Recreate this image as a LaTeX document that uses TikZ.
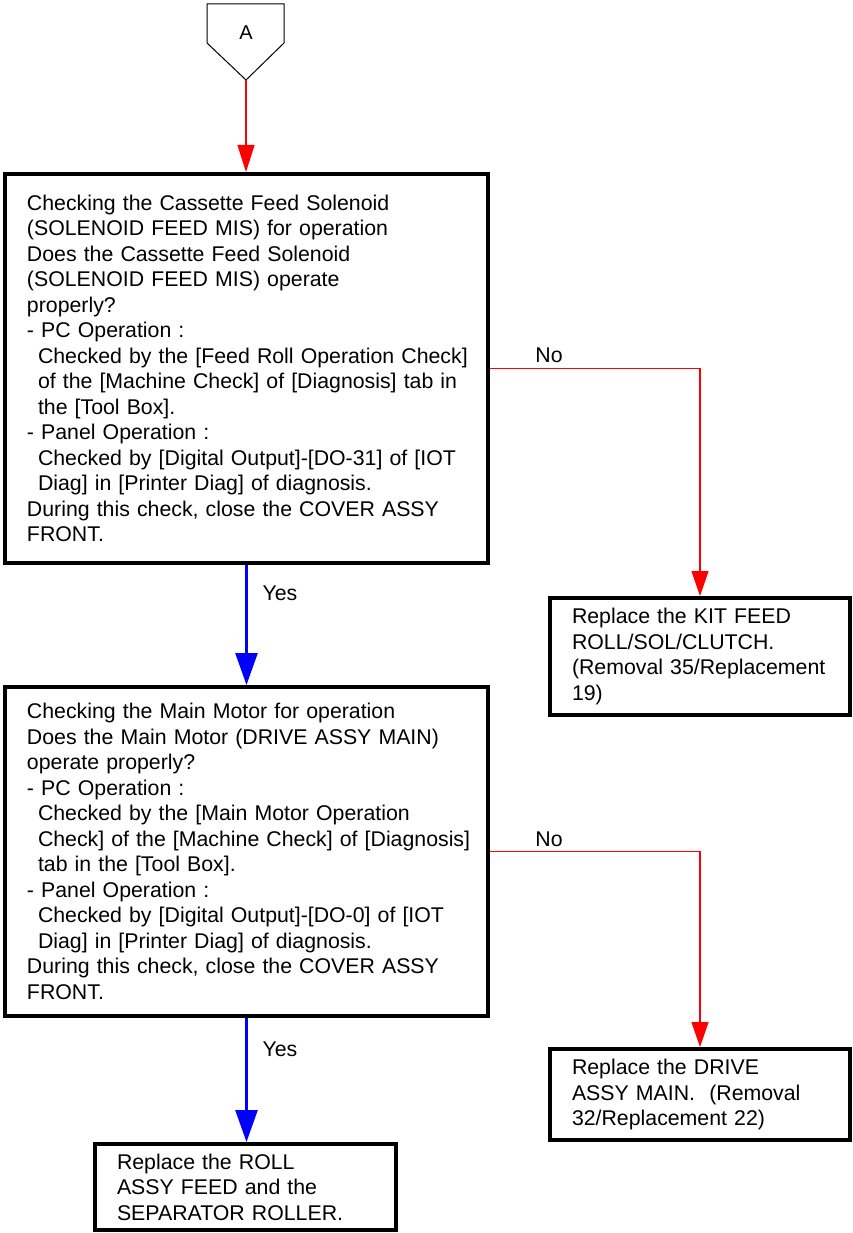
\documentclass[tikz,border=0pt]{standalone}
\usepackage{fontspec}
\setmainfont{Liberation Sans}
\usetikzlibrary{arrows.meta}
\newcommand{\ind}[1]{\mbox{\hspace*{11pt}#1}}
\tikzset{
  box/.style={draw=black, line width=4pt, rectangle, align=left, inner xsep=22pt, inner ysep=0pt,
              font=\fontsize{21.3pt}{25.5pt}\selectfont},
  lbl/.style={font=\fontsize{21.3pt}{25.5pt}\selectfont, inner sep=0pt},
  noarrow/.style={draw=red, line width=1.2pt, -{Triangle[length=25pt,width=17pt]}},
  toparrow/.style={draw=red, line width=1.2pt, -{Triangle[length=27pt,width=17pt]}},
  yesarrow/.style={draw=blue, line width=2.6pt, -{Triangle[length=32pt,width=22pt]}},
}
\begin{document}
\begin{tikzpicture}[x=1pt,y=-1pt]
\useasboundingbox (0,0) rectangle (852,1233);
% connector symbol A
\draw[line width=1pt, line join=miter] (207,4) -- (284,4) -- (284,43) -- (246,80) -- (207,43) -- cycle;
\node[font=\fontsize{20pt}{24pt}\selectfont, inner sep=0pt] (A) at (246,33) {A};
\coordinate (Atip) at (246,80);

\node[box, minimum width=483pt, minimum height=389pt, text width=439pt] (b1) at (246.5,368.5) {\mbox{Checking the Cassette Feed Solenoid}\\
\mbox{(SOLENOID FEED MIS) for operation}\\
\mbox{Does the Cassette Feed Solenoid}\\
\mbox{(SOLENOID FEED MIS) operate}\\
properly?\\
- PC Operation :\\
\ind{Checked by the [Feed Roll Operation Check]}\\
\ind{of the [Machine Check] of [Diagnosis] tab in}\\
\ind{the [Tool Box].}\\
- Panel Operation :\\
\ind{Checked by [Digital Output]-[DO-31] of [IOT}\\
\ind{Diag] in [Printer Diag] of diagnosis.}\\
\mbox{During this check, close the COVER ASSY}\\
FRONT.};

\node[box, minimum width=300pt, minimum height=117pt, text width=256pt] (kit) at (700,656.5) {Replace the KIT FEED\\
ROLL/SOL/CLUTCH.\\
\mbox{(Removal 35/Replacement}\\
19)};

\node[box, minimum width=483pt, minimum height=329pt, text width=439pt] (b2) at (246.5,851.5) {\mbox{Checking the Main Motor for operation}\\
\mbox{Does the Main Motor (DRIVE ASSY MAIN)}\\
operate properly?\\
- PC Operation :\\
\ind{Checked by the [Main Motor Operation}\\
\ind{Check] of the [Machine Check] of [Diagnosis]}\\
\ind{tab in the [Tool Box].}\\
- Panel Operation :\\
\ind{Checked by [Digital Output]-[DO-0] of [IOT}\\
\ind{Diag] in [Printer Diag] of diagnosis.}\\
\mbox{During this check, close the COVER ASSY}\\
FRONT.};

\node[box, minimum width=300pt, minimum height=91pt, text width=256pt] (drive) at (700,1094.5) {Replace the DRIVE\\
\mbox{ASSY MAIN.\ \ (Removal}\\
\mbox{32/Replacement 22)}};

\node[box, minimum width=301pt, minimum height=86pt, text width=257pt] (b3) at (245.5,1187) {Replace the ROLL\\
\mbox{ASSY FEED and the}\\
\mbox{SEPARATOR ROLLER.}};

% connectors
\draw[toparrow] (Atip) -- (Atip |- b1.north);
\draw[noarrow] (b1.east) -| (kit.north);
\draw[yesarrow] (b1.south) -- (b2.north);
\draw[noarrow] (b2.east) -| (drive.north);
\draw[yesarrow] (b2.south) -- (b2.south |- b3.north);

% labels
\node[lbl] (no1) at (549,355) {No};
\node[lbl] (yes1) at (280,593) {Yes};
\node[lbl] (no2) at (549,839) {No};
\node[lbl] (yes2) at (280,1049) {Yes};
\end{tikzpicture}
\end{document}
